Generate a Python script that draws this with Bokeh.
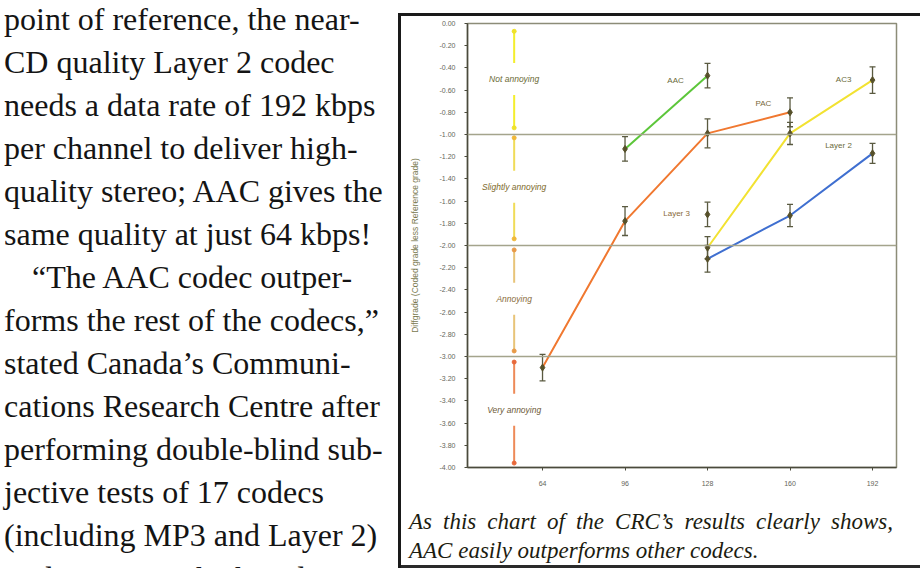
from bokeh.plotting import figure
from bokeh.models import (ColumnDataSource, Whisker, TeeHead, Label, Span,
                          FixedTicker, PrintfTickFormatter, Div)
from bokeh.layouts import row, column
from bokeh.embed import file_html
from bokeh.resources import INLINE

# ---------------- data ----------------
bitrates = [64, 96, 128, 160, 192]

aac_x = [96, 128]
aac_y = [-1.13, -0.47]
aac_err = [0.11, 0.11]

pac_x = [64, 96, 128, 160]
pac_y = [-3.10, -1.78, -0.99, -0.80]
pac_err = [0.12, 0.13, 0.13, 0.13]

ac3_x = [128, 160, 192]
ac3_y = [-2.02, -0.99, -0.51]
ac3_err = [0.10, 0.10, 0.12]

layer2_x = [128, 160, 192]
layer2_y = [-2.12, -1.73, -1.17]
layer2_err = [0.12, 0.10, 0.09]

layer3_x = [128]
layer3_y = [-1.72]
layer3_err = [0.11]

grade_names = ["Not annoying", "Slightly annoying", "Annoying", "Very annoying"]
grade_top = [-0.07, -1.03, -2.04, -3.05]
grade_bottom = [-0.94, -1.94, -2.95, -3.96]
grade_label_y = [-0.50, -1.47, -2.48, -3.48]
grade_bounds = [-1.0, -2.0, -3.0]
scale_x = 53

y_ticks = [round(-0.2 * i, 2) for i in range(21)]

left_lines = [
    "point of reference, the near-",
    "CD quality Layer 2 codec",
    "needs a data rate of 192 kbps",
    "per channel to deliver high-",
    "quality stereo; AAC gives the",
    "same quality at just 64 kbps!",
    "\u201cThe AAC codec outper-",
    "forms the rest of the codecs,\u201d",
    "stated Canada\u2019s Communi-",
    "cations Research Centre after",
    "performing double-blind sub-",
    "jective tests of 17 codecs",
    "(including MP3 and Layer 2)",
    "to determine which codec to",
]
caption_lines = ["As this chart of the CRC\u2019s results clearly shows,",
                 "AAC easily outperforms other codecs."]

# ---------------- chart ----------------
p = figure(width=519, height=491, x_range=(34.9, 201.3), y_range=(-4.0, 0.0),
           output_backend="svg", toolbar_location=None,
           min_border_left=66, min_border_right=24, min_border_top=7,
           min_border_bottom=40)
p.background_fill_color = "white"
p.border_fill_color = "white"
p.outline_line_color = "#8c8c78"
p.outline_line_width = 1.5
p.grid.visible = False

p.yaxis.ticker = FixedTicker(ticks=y_ticks)
p.yaxis.formatter = PrintfTickFormatter(format="%.2f")
p.xaxis.ticker = FixedTicker(ticks=bitrates)
for ax in (p.xaxis[0], p.yaxis[0]):
    ax.axis_line_color = "#4a4a3c"
    ax.axis_line_width = 1.5
    ax.major_tick_line_color = "#4a4a3c"
    ax.major_tick_out = 3
    ax.major_tick_in = 0
    ax.minor_tick_line_color = None
    ax.major_label_text_font = "Liberation Sans"
    ax.major_label_text_font_size = "7px"
    ax.major_label_text_color = "#66665a"
p.yaxis.major_label_standoff = 9
p.xaxis.major_label_standoff = 10
p.yaxis.axis_label = "Diffgrade (Coded grade less Reference grade)"
p.yaxis.axis_label_text_font = "Liberation Sans"
p.yaxis.axis_label_text_font_size = "8.5px"
p.yaxis.axis_label_text_font_style = "normal"
p.yaxis.axis_label_text_color = "#7a7a50"
p.yaxis.axis_label_standoff = 17

for b in grade_bounds:
    p.add_layout(Span(location=b, dimension="width", line_color="#a4a48c",
                      line_width=1.5))

# grade scale on the left
grade_colors = ["#f4ee2c", "#f0dc58", "#e8c478", "#ee8a58"]
grade_end_colors = ["#efe22a", "#f0b838", "#e89a48", "#e8683a"]
p.segment(x0=[scale_x] * 4, y0=grade_top, x1=[scale_x] * 4, y1=grade_bottom,
          line_color=grade_colors, line_width=2)
p.scatter(x=[scale_x] * 4, y=grade_top, marker="circle", size=4,
          color=grade_end_colors)
p.scatter(x=[scale_x] * 4, y=grade_bottom, marker="circle", size=4,
          color=grade_end_colors)
grade_text_colors = ["#6b6b36", "#7d6a2a", "#8a6d3c", "#6e5a38"]
for name, gy, gc in zip(grade_names, grade_label_y, grade_text_colors):
    p.add_layout(Label(x=scale_x, y=gy, text=name, text_font="Liberation Sans",
                       text_font_size="8.5px", text_font_style="italic",
                       text_color=gc, text_align="center",
                       text_baseline="middle", background_fill_color="white",
                       background_fill_alpha=1.0,
                       padding=dict(left=1, right=1, top=11, bottom=11)))

series = [
    ("AAC", aac_x, aac_y, aac_err, "#5cc63a"),
    ("PAC", pac_x, pac_y, pac_err, "#f07830"),
    ("AC3", ac3_x, ac3_y, ac3_err, "#f2e232"),
    ("Layer 2", layer2_x, layer2_y, layer2_err, "#3f6fd0"),
    ("Layer 3", layer3_x, layer3_y, layer3_err, None),
]
for name, xs, ys, es, col in series:
    src = ColumnDataSource(dict(x=xs, y=ys,
                                upper=[v + e for v, e in zip(ys, es)],
                                lower=[v - e for v, e in zip(ys, es)]))
    if col is not None and len(xs) > 1:
        p.line("x", "y", source=src, line_color=col, line_width=2)
    w = Whisker(source=src, base="x", upper="upper", lower="lower",
                line_color="#5a5a40", line_width=1.3,
                upper_head=TeeHead(size=6, line_color="#5a5a40", line_width=1.3),
                lower_head=TeeHead(size=6, line_color="#5a5a40", line_width=1.3))
    p.add_layout(w)
    p.scatter("x", "y", source=src, marker="diamond", size=7,
              color="#56502a")

series_label_x = [115.6, 149.7, 180.8, 178.8, 116.0]
series_label_y = [-0.51, -0.72, -0.50, -1.10, -1.71]
series_label_colors = ["#6a6a3a", "#7a6a3a", "#6a6a3a", "#6a6a3a", "#8a6a3a"]
for (name, *_), lx, ly, lc in zip(series, series_label_x, series_label_y,
                                   series_label_colors):
    p.add_layout(Label(x=lx, y=ly, text=name, text_font="Liberation Sans",
                       text_font_size="8px", text_color=lc,
                       text_align="center", text_baseline="middle"))

# ---------------- page text ----------------
line_divs = []
for i, t in enumerate(left_lines):
    pad = "padding-left:28px;" if i == 6 else ""
    line_divs.append(f"<div style='{pad}'>{t}</div>")
left_html = (
    "<div style='position:relative;width:401px;height:568px;overflow:hidden'>"
    "<div style='position:absolute;left:398px;top:13px;width:3px;height:555px;"
    "background:#1a1a1a'></div>"
    "<div style=\"position:absolute;left:4px;top:-2px;font-family:'Liberation Serif';"
    "font-size:32px;line-height:43px;color:#141414;white-space:nowrap\">"
    + "".join(line_divs) + "</div></div>")
left_div = Div(text=left_html, width=401, height=568, margin=(0, 0, 0, 0))

top_bar = Div(text="<div style='margin-top:13px;width:519px;height:3px;"
                   "background:#1a1a1a'></div>",
              width=519, height=16, margin=(0, 0, 0, 0))

cap_html = (
    "<div style='position:relative;width:519px;height:61px'>"
    "<div style=\"font-family:'Liberation Serif';font-style:italic;font-size:23px;"
    "line-height:29px;color:#1c1c10;width:492px;padding-left:8px;white-space:nowrap\">"
    f"<div style='text-align:justify;text-align-last:justify;white-space:normal'>{caption_lines[0]}</div>"
    f"<div>{caption_lines[1]}</div></div>"
    "<div style='position:absolute;left:0;top:58px;width:519px;height:3px;"
    "background:#2a2a2a'></div></div>")
cap_div = Div(text=cap_html, width=519, height=61, margin=(0, 0, 0, 0))

layout = row(left_div, column(top_bar, p, cap_div, spacing=0), spacing=0)

open("out.html", "w").write(file_html(layout, INLINE))
